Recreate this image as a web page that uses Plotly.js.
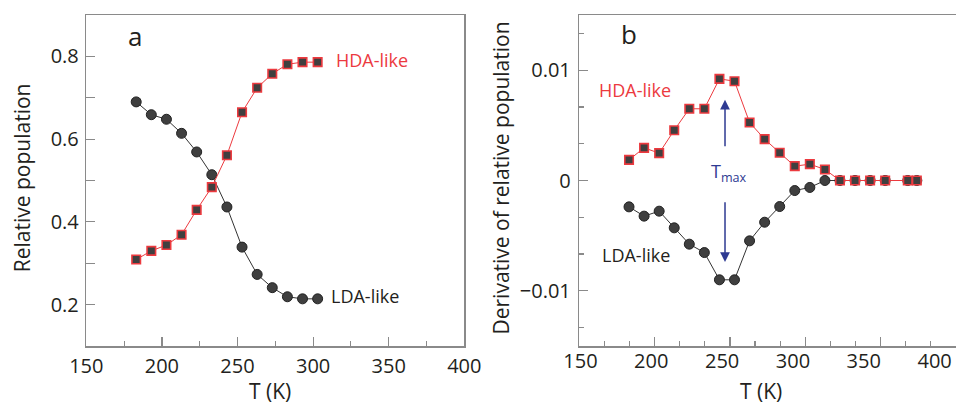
<!DOCTYPE html>
<html>
<head>
<meta charset="utf-8">
<script src="https://cdn.plot.ly/plotly-3.0.1.min.js"></script>
<style>html,body{margin:0;padding:0;background:#fff;}#chart{width:956px;height:405px;}</style>
</head>
<body>
<div id="chart"></div>
<script>
// Panel a: relative population vs temperature
var tempA = [183, 193, 203, 213, 223, 233, 243, 253, 263, 273, 283, 293, 303];
var ldaPop = [0.690, 0.659, 0.648, 0.614, 0.569, 0.514, 0.436, 0.339, 0.273, 0.241, 0.219, 0.214, 0.214];
var hdaPop = [0.309, 0.330, 0.344, 0.369, 0.429, 0.484, 0.561, 0.665, 0.724, 0.758, 0.781, 0.786, 0.786];

// Panel b: derivative of relative population vs temperature
var tempB = [183, 193, 203, 213, 223, 233, 243, 253, 263, 273, 283, 293, 303, 313, 323, 333, 343, 353, 368, 374];
var ldaDeriv = [-0.00239, -0.00323, -0.00278, -0.00429, -0.00577, -0.00653, -0.0090, -0.0090, -0.00547, -0.00378, -0.00236, -0.00091, -0.00063, 0, 0, 0, 0, 0, 0, 0];
var hdaDeriv = [0.00187, 0.00296, 0.00248, 0.00456, 0.0065, 0.0065, 0.00921, 0.0090, 0.00526, 0.00375, 0.00251, 0.0013, 0.00148, 0.0010, 0, 0, 0, 0, 0, 0];

var tickLabelsX = ['150', '200', '250', '300', '350', '400'];
var tickValsX = [150, 200, 250, 300, 350, 400];
var xTitle = 'T (K)';
var yTitleA = 'Relative population';
var yTitleB = 'Derivative of relative population';

var FONT = 'Open Sans, Noto Sans, sans-serif';
var DARK = '#231f20';
var RED = '#ec3a3f';
var BLUE = '#2e3a92';
var GRAY = '#8a8a8a';
var MARK = '#3f3f3f';

var circ = {symbol: 'circle', size: 10, color: MARK, line: {color: '#222', width: 1}};
var sq = {symbol: 'square', size: 8.5, color: MARK, line: {color: RED, width: 1.6}};

var traces = [
  {x: tempA, y: ldaPop, xaxis: 'x', yaxis: 'y', mode: 'lines+markers', line: {color: '#333', width: 1}, marker: circ, hoverinfo: 'x+y'},
  {x: tempA, y: hdaPop, xaxis: 'x', yaxis: 'y', mode: 'lines+markers', line: {color: RED, width: 1}, marker: sq, hoverinfo: 'x+y'},
  {x: tempB, y: ldaDeriv, xaxis: 'x2', yaxis: 'y2', mode: 'lines+markers', line: {color: '#333', width: 1}, marker: circ, hoverinfo: 'x+y'},
  {x: tempB, y: hdaDeriv, xaxis: 'x2', yaxis: 'y2', mode: 'lines+markers', line: {color: RED, width: 1}, marker: sq, hoverinfo: 'x+y'},
  // empty trace so the label-only overlay axis of panel b is drawn
  {x: [], y: [], xaxis: 'x3', yaxis: 'y2', mode: 'markers', showlegend: false, hoverinfo: 'skip'}
];

var tickFont = {family: FONT, size: 20, color: DARK};
var titleFont = {family: FONT, size: 21, color: DARK};

function baseAxis(extra) {
  var a = {
    showline: true, linecolor: GRAY, linewidth: 1.5,
    ticks: 'inside', ticklen: 9, tickwidth: 1.2, tickcolor: GRAY,
    showgrid: false, zeroline: false, automargin: false,
    tickfont: tickFont, ticklabelstandoff: 1
  };
  for (var k in extra) a[k] = extra[k];
  return a;
}

var layout = {
  width: 956, height: 405,
  margin: {l: 0, r: 0, t: 15, b: 59},
  paper_bgcolor: '#fff', plot_bgcolor: '#fff',
  showlegend: false,
  font: {family: FONT, color: DARK},
  xaxis: baseAxis({
    domain: [86.3/956, 464.3/956], range: [150, 400], anchor: 'y', mirror: true,
    tickvals: tickValsX, ticktext: tickLabelsX,
    minor: {dtick: 25, tick0: 150, ticks: 'inside', ticklen: 5, tickcolor: GRAY, tickwidth: 1.2}
  }),
  yaxis: baseAxis({
    domain: [0, 1], range: [0.1, 0.9], anchor: 'x', mirror: true,
    tickvals: [0.2, 0.4, 0.6, 0.8], ticktext: ['0.2', '0.4', '0.6', '0.8'],
    minor: {dtick: 0.1, tick0: 0.1, ticks: 'inside', ticklen: 9, tickcolor: GRAY, tickwidth: 1.2},
    ticklabelstandoff: 2
  }),
  xaxis2: baseAxis({
    domain: [579.3/956, 1], range: [150, 400], anchor: 'y2', mirror: true,
    dtick: 50, tick0: 150, showticklabels: false,
    minor: {dtick: 50/3, tick0: 150, ticks: 'inside', ticklen: 5, tickcolor: GRAY, tickwidth: 1.2}
  }),
  xaxis3: {
    overlaying: 'x2', anchor: 'y2', side: 'bottom', automargin: false,
    range: [149.2, 415.1], tickvals: tickValsX, ticktext: tickLabelsX,
    showline: false, ticks: '', showgrid: false, zeroline: false,
    tickfont: tickFont, ticklabelstandoff: 1, fixedrange: true
  },
  yaxis2: baseAxis({
    domain: [0, 1], range: [-0.015, 0.015], anchor: 'x2', mirror: false,
    tickvals: [-0.01, 0, 0.01], ticktext: ['\u22120.01', '0', '0.01'],
    minor: {dtick: 0.01/3, tick0: 0, ticks: 'inside', ticklen: 5, tickcolor: GRAY, tickwidth: 1.2},
    ticklabelstandoff: 3
  }),
  annotations: [
    // axis titles
    {xref: 'paper', yref: 'paper', x: 270/956, y: -0.135, text: xTitle, showarrow: false, xanchor: 'center', yanchor: 'middle', font: titleFont},
    {xref: 'paper', yref: 'paper', x: 761/956, y: -0.135, text: xTitle, showarrow: false, xanchor: 'center', yanchor: 'middle', font: titleFont},
    {xref: 'paper', yref: 'paper', x: 21.7/956, y: 0.509, text: yTitleA, textangle: -90, showarrow: false, xanchor: 'center', yanchor: 'middle', font: titleFont},
    {xref: 'paper', yref: 'paper', x: 501/956, y: 0.509, text: yTitleB, textangle: -90, showarrow: false, xanchor: 'center', yanchor: 'middle', font: titleFont},
    // panel letters and labels
    {xref: 'x', yref: 'y', x: 182, y: 0.850, text: 'a', showarrow: false, xanchor: 'center', yanchor: 'middle', font: {family: FONT, size: 26, color: DARK}},
    {xref: 'x2', yref: 'y2', x: 182.8, y: 0.01326, text: 'b', showarrow: false, xanchor: 'center', yanchor: 'middle', font: {family: FONT, size: 26, color: DARK}},
    {xref: 'x', yref: 'y', x: 314, y: 0.791, text: 'HDA-like', showarrow: false, xanchor: 'left', yanchor: 'middle', font: {family: FONT, size: 18, color: RED}},
    {xref: 'x', yref: 'y', x: 310.5, y: 0.222, text: 'LDA-like', showarrow: false, xanchor: 'left', yanchor: 'middle', font: {family: FONT, size: 18, color: DARK}},
    {xref: 'x2', yref: 'y2', x: 161.5, y: 0.00816, text: 'HDA-like', showarrow: false, xanchor: 'left', yanchor: 'middle', font: {family: FONT, size: 18, color: RED}},
    {xref: 'x2', yref: 'y2', x: 163.7, y: -0.00676, text: 'LDA-like', showarrow: false, xanchor: 'left', yanchor: 'middle', font: {family: FONT, size: 18, color: DARK}},
    {xref: 'x2', yref: 'y2', x: 236, y: 0.0007, text: 'T<sub>max</sub>', showarrow: false, xanchor: 'left', yanchor: 'middle', font: {family: FONT, size: 18, color: BLUE}},
    {xref: 'x2', yref: 'y2', axref: 'x2', ayref: 'y2', x: 246.7, y: 0.00732, ax: 246.7, ay: 0.00297, text: '', showarrow: true, arrowhead: 2, arrowsize: 1.3, arrowwidth: 1.5, arrowcolor: BLUE},
    {xref: 'x2', yref: 'y2', axref: 'x2', ayref: 'y2', x: 246.7, y: -0.00738, ax: 246.7, ay: -0.00184, text: '', showarrow: true, arrowhead: 2, arrowsize: 1.3, arrowwidth: 1.5, arrowcolor: BLUE}
  ]
};

Plotly.newPlot('chart', traces, layout, {displayModeBar: false, staticPlot: true});
</script>
</body>
</html>
